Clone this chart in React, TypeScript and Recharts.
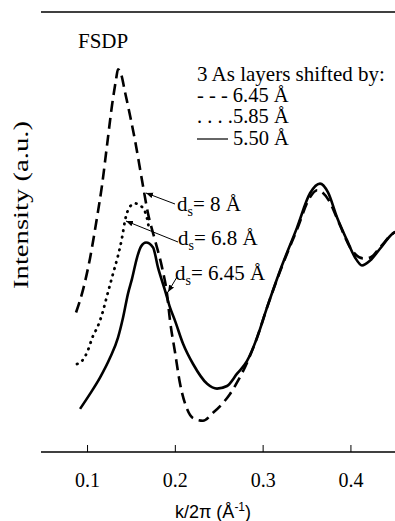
import React from 'react';
import { LineChart, Line, XAxis, YAxis, ReferenceLine } from 'recharts';

// k/2pi (1/A) and intensity (a.u., 0-100)
const kSolid = [0.0915, 0.1028, 0.1142, 0.1256, 0.1347, 0.1404, 0.1461, 0.1507, 0.1564, 0.1609, 0.1666, 0.1746, 0.1803, 0.1883, 0.194, 0.1997, 0.2088, 0.2202, 0.2362, 0.2475, 0.2589, 0.2703, 0.2817, 0.2931, 0.3044, 0.3192, 0.3386, 0.3534, 0.3648, 0.3739, 0.3842, 0.3956, 0.4047, 0.4126, 0.4218, 0.4331, 0.4479, 0.4514];
const iSolid = [9.8, 13.2, 16.9, 21.4, 26.0, 30.5, 36.0, 39.4, 44.2, 46.7, 47.6, 46.5, 41.9, 36.7, 32.8, 29.8, 24.6, 20.0, 15.5, 14.4, 15.0, 17.8, 20.7, 26.0, 32.8, 41.2, 51.0, 58.8, 61.0, 59.0, 53.3, 48.1, 44.2, 42.4, 43.5, 46.2, 49.7, 50.1];

const kDashed = [0.0869, 0.0949, 0.1028, 0.1108, 0.1165, 0.1222, 0.1279, 0.1325, 0.1347, 0.1382, 0.1427, 0.1484, 0.1541, 0.1621, 0.1689, 0.1769, 0.1849, 0.1905, 0.194, 0.1997, 0.2054, 0.2133, 0.2202, 0.2315, 0.2429, 0.2532, 0.2623, 0.2714, 0.2817, 0.2931, 0.3044, 0.3192, 0.3386, 0.3534, 0.3614, 0.3762, 0.3842, 0.4013, 0.4138, 0.4218, 0.4331, 0.4479, 0.4514];
const iDashed = [31.7, 36.9, 44.0, 53.3, 60.6, 69.7, 78.8, 84.7, 87.0, 85.9, 81.8, 76.5, 70.8, 61.7, 54.2, 48.1, 41.9, 36.0, 29.8, 22.6, 15.5, 9.8, 7.7, 7.1, 8.9, 10.9, 13.2, 16.2, 20.3, 26.0, 32.8, 41.0, 50.6, 57.9, 59.5, 56.7, 53.1, 45.8, 44.0, 44.2, 46.5, 49.7, 50.1];

const kDotted = [0.088, 0.0937, 0.0994, 0.1063, 0.112, 0.1177, 0.1222, 0.129, 0.1347, 0.1393, 0.1427, 0.1484, 0.1541, 0.1598, 0.1644, 0.1678, 0.17];
const iDotted = [20.0, 20.7, 22.6, 26.4, 28.7, 32.1, 35.5, 40.5, 44.6, 48.7, 52.6, 55.8, 56.5, 56.0, 55.1, 53.1, 50.8];

const xTicks = [0.1, 0.2, 0.3, 0.4];

const pts = (ks: number[], is: number[]) => ks.map((k, i) => ({ k, v: is[i] }));

const serif = 'Liberation Serif, DejaVu Serif, serif';
const sans = 'Liberation Sans, Arial, sans-serif';

export default function App() {
  return (
    <div style={{ position: 'absolute', left: 0, top: 0, width: 395, height: 521, background: '#fff', fontFamily: serif }}>
      <LineChart width={395} height={521} margin={{ top: 12, right: 0, bottom: 0, left: 41 }} style={{ fontFamily: serif }}>
        <XAxis
          dataKey="k"
          type="number"
          domain={[0.047, 0.4502]}
          ticks={xTicks}
          allowDataOverflow
          height={69}
          tickSize={-7}
          tickMargin={28}
          tickFormatter={(t: number) => t.toFixed(1)}
          tick={{ fill: '#000', fontSize: 20, style: { fontFamily: serif } }}
          axisLine={{ stroke: '#000', strokeWidth: 1.6 }}
          tickLine={{ stroke: '#000', strokeWidth: 1 }}
        />
        <YAxis width={0} domain={[0, 100]} tick={false} tickLine={false} axisLine={{ stroke: '#000', strokeWidth: 1.6 }} />
        <ReferenceLine y={100} stroke="#000" strokeWidth={1.6} />
        <Line data={pts(kDotted, iDotted)} dataKey="v" type="monotone" stroke="#000" strokeWidth={2.8} strokeDasharray="0.5 6" strokeLinecap="round" dot={false} isAnimationActive={false} />
        <Line data={pts(kSolid, iSolid)} dataKey="v" type="monotone" stroke="#000" strokeWidth={2.6} dot={false} isAnimationActive={false} />
        <Line data={pts(kDashed, iDashed)} dataKey="v" type="monotone" stroke="#000" strokeWidth={2.6} strokeDasharray="11 6" dot={false} isAnimationActive={false} />
      </LineChart>
      <svg width={395} height={521} style={{ position: 'absolute', left: 0, top: 0, pointerEvents: 'none' }}>
        <defs>
          <marker id="arr" viewBox="0 0 10 10" refX="10" refY="5" markerWidth="7" markerHeight="7" orient="auto">
            <path d="M0,1 L10,5 L0,9 z" fill="#000" />
          </marker>
        </defs>
        <g style={{ fontFamily: serif }} fill="#000">
          <text x={78} y={48} fontSize={21}>FSDP</text>
          <text x={197} y={81} fontSize={21}>3 As layers shifted by:</text>
          <text x={197} y={102} fontSize={20.5}>- - - 6.45 Å</text>
          <text x={197} y={123} fontSize={20.5}>. . . .5.85 Å</text>
          <line x1={197} y1={139} x2={228} y2={139} stroke="#000" strokeWidth={1.2} />
          <text x={233} y={145} fontSize={20.5}>5.50 Å</text>

          <text x={177} y={211} fontSize={21}>d<tspan dy={5} fontSize={14}>s</tspan><tspan dy={-5}>= 8 Å</tspan></text>
          <text x={178} y={245} fontSize={21}>d<tspan dy={5} fontSize={14}>s</tspan><tspan dy={-5}>= 6.8 Å</tspan></text>
          <text x={175} y={280} fontSize={21}>d<tspan dy={5} fontSize={14}>s</tspan><tspan dy={-5}>= 6.45 Å</tspan></text>

          <text x={28} y={205} fontSize={20} textAnchor="middle" transform="rotate(-90 28 205)" textLength={168} lengthAdjust="spacingAndGlyphs">Intensity (a.u.)</text>
        </g>
        <line x1={175} y1={204} x2={146} y2={193} stroke="#000" strokeWidth={1} markerEnd="url(#arr)" />
        <line x1={178} y1={242} x2={126} y2={221} stroke="#000" strokeWidth={1} markerEnd="url(#arr)" />
        <line x1={177} y1={277} x2={168} y2={292} stroke="#000" strokeWidth={1} markerEnd="url(#arr)" />
        <text x={213} y={518} fontSize={18} textAnchor="middle" style={{ fontFamily: sans }} fill="#000">
          k/2π (Å<tspan dy={-7} fontSize={12}>-1</tspan><tspan dy={7}>)</tspan>
        </text>
      </svg>
    </div>
  );
}
